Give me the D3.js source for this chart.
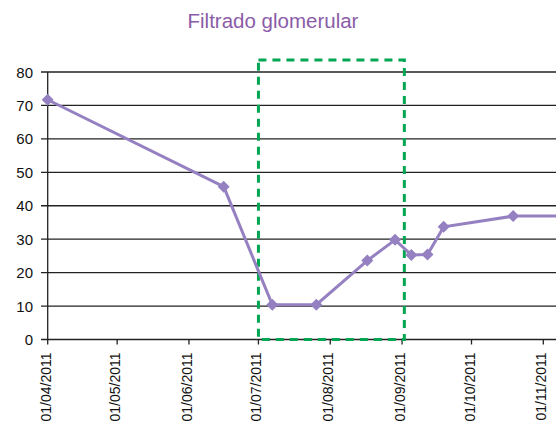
<!DOCTYPE html>
<html>
<head>
<script src='https://cdnjs.cloudflare.com/ajax/libs/d3/7.8.5/d3.min.js'></script>
<style>
body { margin:0; background:#fff; }
text { font-family: "Liberation Sans", Arial, sans-serif; }
</style>
</head>
<body>
<script>
	var dates = ["2011-04-01","2011-06-16","2011-07-07","2011-07-26","2011-08-17","2011-08-29","2011-09-05","2011-09-12","2011-09-19","2011-10-19","2011-11-25"];
	var values = [71.7, 45.7, 10.4, 10.4, 23.6, 29.8, 25.3, 25.4, 33.7, 36.9, 36.9];
	var tickDates = ["2011-04-01","2011-05-01","2011-06-01","2011-07-01","2011-08-01","2011-09-01","2011-10-01","2011-11-01"];
	var yTicks = [0,10,20,30,40,50,60,70,80];
	var boxDates = ["2011-07-01","2011-09-02"];
	var boxTop = 83.6;

	var width = 556, height = 428;
	var parse = d3.timeParse("%Y-%m-%d");
	var fmt = d3.timeFormat("%d/%m/%Y");

	var svg = d3.select("body").append("svg")
		.attr("width", width)
		.attr("height", height);

	var x = d3.scaleTime()
		.domain([parse("2011-04-01"), parse("2011-11-01")])
		.range([47.7, 543.3]);
	var y = d3.scaleLinear()
		.domain([0, 80])
		.range([339.5, 72]);

	svg.append("text")
		.attr("x", 273).attr("y", 27.5)
		.attr("text-anchor", "middle")
		.attr("font-size", "20.5px")
		.attr("fill", "#8a5ca8")
		.text("Filtrado glomerular");

	// grid
	svg.selectAll(".grid")
		.data(yTicks)
		.enter().append("line")
		.attr("x1", 41).attr("x2", width)
		.attr("y1", function(d){ return y(d); })
		.attr("y2", function(d){ return y(d); })
		.attr("stroke", "#222")
		.attr("stroke-width", 1.3);

	// y axis
	svg.append("line")
		.attr("x1", x.range()[0]).attr("x2", x.range()[0])
		.attr("y1", y(80)).attr("y2", y(0))
		.attr("stroke", "#222").attr("stroke-width", 1.3);

	svg.selectAll(".ylab")
		.data(yTicks)
		.enter().append("text")
		.attr("x", 33)
		.attr("y", function(d){ return y(d) + 5.5; })
		.attr("text-anchor", "end")
		.attr("font-size", "15px")
		.attr("fill", "#111")
		.text(function(d){ return d; });

	// x ticks
	var xt = tickDates.map(parse);
	svg.selectAll(".xtick")
		.data(xt)
		.enter().append("line")
		.attr("x1", function(d){ return x(d); })
		.attr("x2", function(d){ return x(d); })
		.attr("y1", y(0)).attr("y2", y(0) + 5)
		.attr("stroke", "#222").attr("stroke-width", 1.3);

	svg.selectAll(".xlab")
		.data(xt)
		.enter().append("text")
		.attr("transform", function(d){ return "translate(" + (x(d) + 3) + "," + (y(0) + 13) + ") rotate(-90)"; })
		.attr("text-anchor", "end")
		.attr("font-size", "14px")
		.attr("fill", "#111")
		.text(function(d){ return fmt(d); });

	// dashed box
	svg.append("rect")
		.attr("x", x(parse(boxDates[0])))
		.attr("y", y(boxTop))
		.attr("width", x(parse(boxDates[1])) - x(parse(boxDates[0])))
		.attr("height", y(0) - y(boxTop))
		.attr("fill", "none")
		.attr("stroke", "#00a651")
		.attr("stroke-width", 3)
		.attr("stroke-dasharray", "8,6");

	var data = dates.map(function(d, i){ return {date: parse(d), value: values[i]}; });

	var line = d3.line()
		.x(function(d){ return x(d.date); })
		.y(function(d){ return y(d.value); });

	svg.append("path")
		.datum(data)
		.attr("d", line)
		.attr("fill", "none")
		.attr("stroke", "#9580c1")
		.attr("stroke-width", 3);

	svg.selectAll(".pt")
		.data(data)
		.enter().append("path")
		.attr("d", d3.symbol().type(d3.symbolSquare).size(72))
		.attr("transform", function(d){ return "translate(" + x(d.date) + "," + y(d.value) + ") rotate(45)"; })
		.attr("fill", "#9580c1");
</script>
</body>
</html>
